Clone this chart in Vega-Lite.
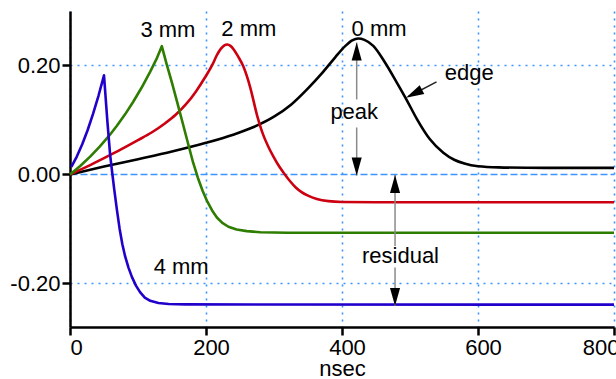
{
  "$schema": "https://vega.github.io/schema/vega-lite/v6.json",
  "width": 544,
  "height": 316,
  "autosize": "none",
  "padding": {"left": 70, "top": 11, "right": 2, "bottom": 52},
  "background": "white",
  "config": {
    "view": {"stroke": null},
    "font": "Liberation Sans",
    "axis": {
      "labelFont": "Liberation Sans",
      "titleFont": "Liberation Sans",
      "labelFontSize": 22,
      "titleFontSize": 22,
      "labelColor": "black",
      "titleColor": "black",
      "titleFontWeight": "normal",
      "domainColor": "black",
      "domainWidth": 2.5,
      "tickColor": "black",
      "tickWidth": 2.5,
      "tickSize": 8,
      "labelPadding": 2,
      "grid": true,
      "gridColor": "#3d94ff",
      "gridWidth": 1.6
    }
  },
  "datasets": {
    "curves": [
      {"s": "0 mm", "t": 0, "v": 0}, {"s": "0 mm", "t": 50, "v": 0.0145}, {"s": "0 mm", "t": 100, "v": 0.028}, {"s": "0 mm", "t": 150, "v": 0.042}, {"s": "0 mm", "t": 200, "v": 0.058}, {"s": "0 mm", "t": 240, "v": 0.073}, {"s": "0 mm", "t": 270, "v": 0.087}, {"s": "0 mm", "t": 300, "v": 0.106}, {"s": "0 mm", "t": 325, "v": 0.128}, {"s": "0 mm", "t": 350, "v": 0.158}, {"s": "0 mm", "t": 370, "v": 0.185}, {"s": "0 mm", "t": 390, "v": 0.215}, {"s": "0 mm", "t": 405, "v": 0.236}, {"s": "0 mm", "t": 415, "v": 0.246}, {"s": "0 mm", "t": 424, "v": 0.2495}, {"s": "0 mm", "t": 433, "v": 0.247}, {"s": "0 mm", "t": 446, "v": 0.236}, {"s": "0 mm", "t": 463, "v": 0.206}, {"s": "0 mm", "t": 480, "v": 0.17}, {"s": "0 mm", "t": 495, "v": 0.137}, {"s": "0 mm", "t": 510, "v": 0.102}, {"s": "0 mm", "t": 529, "v": 0.065}, {"s": "0 mm", "t": 549, "v": 0.04}, {"s": "0 mm", "t": 565, "v": 0.027}, {"s": "0 mm", "t": 580, "v": 0.02}, {"s": "0 mm", "t": 600, "v": 0.015}, {"s": "0 mm", "t": 630, "v": 0.013}, {"s": "0 mm", "t": 700, "v": 0.012}, {"s": "0 mm", "t": 800, "v": 0.012},
      {"s": "2 mm", "t": 0, "v": 0}, {"s": "2 mm", "t": 25, "v": 0.0145}, {"s": "2 mm", "t": 50, "v": 0.03}, {"s": "2 mm", "t": 75, "v": 0.046}, {"s": "2 mm", "t": 100, "v": 0.063}, {"s": "2 mm", "t": 120, "v": 0.077}, {"s": "2 mm", "t": 140, "v": 0.094}, {"s": "2 mm", "t": 155, "v": 0.109}, {"s": "2 mm", "t": 170, "v": 0.128}, {"s": "2 mm", "t": 185, "v": 0.152}, {"s": "2 mm", "t": 198, "v": 0.177}, {"s": "2 mm", "t": 210, "v": 0.203}, {"s": "2 mm", "t": 216, "v": 0.219}, {"s": "2 mm", "t": 222, "v": 0.231}, {"s": "2 mm", "t": 227, "v": 0.237}, {"s": "2 mm", "t": 231, "v": 0.2385}, {"s": "2 mm", "t": 236, "v": 0.236}, {"s": "2 mm", "t": 241, "v": 0.229}, {"s": "2 mm", "t": 247, "v": 0.217}, {"s": "2 mm", "t": 255, "v": 0.198}, {"s": "2 mm", "t": 265, "v": 0.16}, {"s": "2 mm", "t": 275, "v": 0.109}, {"s": "2 mm", "t": 284, "v": 0.073}, {"s": "2 mm", "t": 292, "v": 0.05}, {"s": "2 mm", "t": 300, "v": 0.031}, {"s": "2 mm", "t": 308, "v": 0.014}, {"s": "2 mm", "t": 316, "v": 0.0}, {"s": "2 mm", "t": 324, "v": -0.013}, {"s": "2 mm", "t": 332, "v": -0.024}, {"s": "2 mm", "t": 340, "v": -0.032}, {"s": "2 mm", "t": 350, "v": -0.039}, {"s": "2 mm", "t": 363, "v": -0.045}, {"s": "2 mm", "t": 380, "v": -0.049}, {"s": "2 mm", "t": 400, "v": -0.0505}, {"s": "2 mm", "t": 450, "v": -0.051}, {"s": "2 mm", "t": 800, "v": -0.051},
      {"s": "3 mm", "t": 0, "v": 0}, {"s": "3 mm", "t": 15, "v": 0.0156}, {"s": "3 mm", "t": 30, "v": 0.0331}, {"s": "3 mm", "t": 44, "v": 0.0514}, {"s": "3 mm", "t": 57, "v": 0.0702}, {"s": "3 mm", "t": 69, "v": 0.0893}, {"s": "3 mm", "t": 81, "v": 0.1103}, {"s": "3 mm", "t": 93, "v": 0.1334}, {"s": "3 mm", "t": 105, "v": 0.1586}, {"s": "3 mm", "t": 118, "v": 0.1887}, {"s": "3 mm", "t": 128, "v": 0.214}, {"s": "3 mm", "t": 135, "v": 0.2355}, {"s": "3 mm", "t": 142, "v": 0.203}, {"s": "3 mm", "t": 150, "v": 0.168}, {"s": "3 mm", "t": 158, "v": 0.131}, {"s": "3 mm", "t": 166, "v": 0.093}, {"s": "3 mm", "t": 174, "v": 0.055}, {"s": "3 mm", "t": 181, "v": 0.022}, {"s": "3 mm", "t": 188, "v": -0.006}, {"s": "3 mm", "t": 195, "v": -0.03}, {"s": "3 mm", "t": 202, "v": -0.05}, {"s": "3 mm", "t": 209, "v": -0.066}, {"s": "3 mm", "t": 216, "v": -0.079}, {"s": "3 mm", "t": 224, "v": -0.089}, {"s": "3 mm", "t": 233, "v": -0.096}, {"s": "3 mm", "t": 245, "v": -0.101}, {"s": "3 mm", "t": 260, "v": -0.104}, {"s": "3 mm", "t": 280, "v": -0.106}, {"s": "3 mm", "t": 320, "v": -0.107}, {"s": "3 mm", "t": 800, "v": -0.107},
      {"s": "4 mm", "t": 2, "v": 0.014}, {"s": "4 mm", "t": 10, "v": 0.0329}, {"s": "4 mm", "t": 18, "v": 0.0555}, {"s": "4 mm", "t": 26, "v": 0.0816}, {"s": "4 mm", "t": 34, "v": 0.1115}, {"s": "4 mm", "t": 42, "v": 0.1449}, {"s": "4 mm", "t": 50, "v": 0.182}, {"s": "4 mm", "t": 55, "v": 0.097}, {"s": "4 mm", "t": 59, "v": 0.036}, {"s": "4 mm", "t": 62, "v": 0.004}, {"s": "4 mm", "t": 65, "v": -0.027}, {"s": "4 mm", "t": 69, "v": -0.065}, {"s": "4 mm", "t": 73, "v": -0.1}, {"s": "4 mm", "t": 77, "v": -0.128}, {"s": "4 mm", "t": 81, "v": -0.15}, {"s": "4 mm", "t": 86, "v": -0.171}, {"s": "4 mm", "t": 91, "v": -0.188}, {"s": "4 mm", "t": 97, "v": -0.204}, {"s": "4 mm", "t": 103, "v": -0.216}, {"s": "4 mm", "t": 110, "v": -0.226}, {"s": "4 mm", "t": 118, "v": -0.232}, {"s": "4 mm", "t": 130, "v": -0.236}, {"s": "4 mm", "t": 145, "v": -0.2378}, {"s": "4 mm", "t": 170, "v": -0.2385}, {"s": "4 mm", "t": 800, "v": -0.239}
    ],
    "labels": [
      {"text": "3 mm", "t": 144, "v": 0.253},
      {"text": "2 mm", "t": 263, "v": 0.2535},
      {"text": "0 mm", "t": 454.5, "v": 0.2535},
      {"text": "4 mm", "t": 163.5, "v": -0.1835},
      {"text": "edge", "t": 587, "v": 0.173},
      {"text": "peak", "t": 418, "v": 0.101},
      {"text": "residual", "t": 486, "v": -0.163}
    ],
    "stems": [
      {"arrow": "peak", "t": 421.6, "v": 0.242, "t2": 421.6, "v2": 0.1376},
      {"arrow": "peak", "t": 421.6, "v": 0.0862, "t2": 421.6, "v2": -0.002},
      {"arrow": "residual", "t": 478, "v": -0.001, "t2": 478, "v2": -0.1315},
      {"arrow": "residual", "t": 478, "v": -0.171, "t2": 478, "v2": -0.2416},
      {"arrow": "edge", "t": 539, "v": 0.17, "t2": 498, "v2": 0.143}
    ],
    "heads": [
      {"arrow": "peak", "dir": "up", "t": 421.6, "v": 0.242},
      {"arrow": "peak", "dir": "down", "t": 421.6, "v": -0.002},
      {"arrow": "residual", "dir": "up", "t": 478, "v": -0.001},
      {"arrow": "residual", "dir": "down", "t": 478, "v": -0.2416},
      {"arrow": "edge", "dir": "edge", "t": 494, "v": 0.1407}
    ]
  },
  "encoding": {
    "x": {
      "field": "t", "type": "quantitative",
      "scale": {"domain": [0, 800], "nice": false, "zero": false},
      "axis": {
        "values": [0, 200, 400, 600, 800],
        "title": "nsec",
        "titlePadding": 0,
        "labelFlush": true,
        "labelOffset": {"condition": {"test": "datum.value == 0", "value": 0}, "value": 5},
        "gridDash": [2, 5]
      }
    },
    "y": {
      "field": "v", "type": "quantitative",
      "scale": {"domain": [-0.28, 0.3], "nice": false, "zero": false},
      "axis": {
        "values": [-0.2, 0, 0.2],
        "title": null,
        "labelExpr": "(datum.value < 0 ? '-' : '') + format(abs(datum.value), '.2f')",
        "gridDash": {"condition": {"test": "datum.value == 0", "value": [7, 3]}, "value": [2, 5]}
      }
    }
  },
  "layer": [
    {
      "data": {"name": "curves"},
      "transform": [{"filter": "datum.s == '0 mm' || datum.s == '2 mm'"}],
      "mark": {"type": "line", "interpolate": "monotone", "strokeWidth": 2.6},
      "encoding": {
        "color": {"field": "s", "type": "nominal", "legend": null,
          "scale": {"domain": ["0 mm", "2 mm", "3 mm", "4 mm"], "range": ["#000000", "#cc0010", "#2e7d00", "#2200cc"]}}
      }
    },
    {
      "data": {"name": "curves"},
      "transform": [{"filter": "datum.s == '3 mm' || datum.s == '4 mm'"}],
      "mark": {"type": "line", "interpolate": "linear", "strokeWidth": 2.6, "strokeJoin": "round"},
      "encoding": {
        "color": {"field": "s", "type": "nominal", "legend": null,
          "scale": {"domain": ["0 mm", "2 mm", "3 mm", "4 mm"], "range": ["#000000", "#cc0010", "#2e7d00", "#2200cc"]}}
      }
    },
    {
      "data": {"name": "stems"},
      "transform": [{"filter": "datum.arrow != 'edge'"}],
      "mark": {"type": "rule", "color": "#8a8a8a", "strokeWidth": 1.5},
      "encoding": {"x2": {"field": "t2"}, "y2": {"field": "v2"}}
    },
    {
      "data": {"name": "stems"},
      "transform": [{"filter": "datum.arrow == 'edge'"}],
      "mark": {"type": "rule", "color": "#222222", "strokeWidth": 1.5},
      "encoding": {"x2": {"field": "t2"}, "y2": {"field": "v2"}}
    },
    {
      "data": {"name": "heads"},
      "transform": [{"filter": "datum.dir == 'up'"}],
      "mark": {"type": "point", "shape": "M0,0 L0.28,1 L-0.28,1 Z", "size": 1296, "filled": true, "color": "black", "opacity": 1, "strokeWidth": 0}
    },
    {
      "data": {"name": "heads"},
      "transform": [{"filter": "datum.dir == 'down'"}],
      "mark": {"type": "point", "shape": "M0,0 L0.28,-1 L-0.28,-1 Z", "size": 1296, "filled": true, "color": "black", "opacity": 1, "strokeWidth": 0}
    },
    {
      "data": {"name": "heads"},
      "transform": [{"filter": "datum.dir == 'edge'"}],
      "mark": {"type": "point", "shape": "M0,0 L0.28,1 L-0.28,1 Z", "size": 1296, "angle": 243, "filled": true, "color": "black", "opacity": 1, "strokeWidth": 0}
    },
    {
      "data": {"name": "labels"},
      "mark": {"type": "text", "font": "Liberation Sans", "fontSize": 22, "color": "black", "align": "center", "baseline": "alphabetic"},
      "encoding": {"text": {"field": "text"}}
    }
  ]
}
